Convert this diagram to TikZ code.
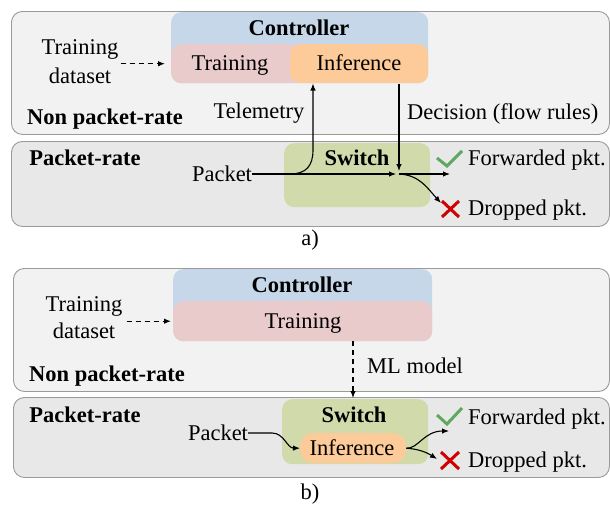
\documentclass[tikz,border=0pt]{standalone}
\usepackage{fontspec}
\setmainfont{Liberation Serif}
\newfontfamily\tnr{Liberation Serif}
\usetikzlibrary{arrows.meta}
\definecolor{outtop}{HTML}{F2F2F2}
\definecolor{outbot}{HTML}{E8E8E8}
\definecolor{outline}{HTML}{9A9A9A}
\definecolor{ctrlblue}{HTML}{C5D7E8}
\definecolor{trainpink}{HTML}{EACBCB}
\definecolor{infor}{HTML}{FDCB9A}
\definecolor{swgreen}{HTML}{D0DAAA}
\definecolor{okgreen}{HTML}{5FA85F}
\definecolor{nored}{HTML}{D00000}
\begin{document}
\begin{tikzpicture}[x=1pt,y=-1pt,
  every node/.style={font=\tnr\fontsize{22.5}{29}\selectfont, inner sep=0pt},
  txt/.style={text height=15pt, text depth=1pt},
  bold/.style={txt, font=\tnr\fontsize{22.5}{29}\selectfont\bfseries},
  region/.style={draw=outline, line width=0.9pt, rounded corners=11pt, anchor=north west},
  pane/.style={rounded corners=10pt, anchor=north west},
  arr/.style={-{Latex[length=7pt,width=5.5pt]}, line width=1.1pt},
  darr/.style={arr, dash pattern=on 5pt off 4pt},
  okmark/.style={draw=okgreen, line width=3pt},
  nomark/.style={draw=nored, line width=3pt}
]
\useasboundingbox (0,0) rectangle (610,504);

% ================= a) =================
\node[region, fill=outtop, minimum width=598pt, minimum height=123pt] (topA) at (11,11) {};
\node[region, fill=outbot, minimum width=598pt, minimum height=85pt] (botA) at (11,141) {};
\node[pane, fill=ctrlblue, minimum width=257pt, minimum height=71pt] (ctrlA) at (171,12) {};
\node[pane, fill=trainpink, minimum width=129pt, minimum height=39pt] (trainA) at (171,44) {};
\node[pane, fill=infor, minimum width=138pt, minimum height=39pt] (infA) at (290,44) {};
\node[pane, fill=swgreen, minimum width=146pt, minimum height=64pt] (swA) at (284,143) {};

\node[bold] (ctrlAl) at (299,28) {Controller};
\node[txt] (trainAl) at (230,63) {Training};
\node[txt] (infAl) at (359,63) {Inference};
\node[align=center, anchor=base] (dsA) at (80,83) {Training\\dataset};
\node[bold] (nprA) at (105,117) {Non packet-rate};
\node[txt] (telA) at (259,111) {Telemetry};
\node[txt, anchor=west] (decA) at (407,112) {Decision (flow rules)};
\node[bold] (prA) at (85,158) {Packet-rate};
\node[bold] (swAl) at (357,158) {Switch};
\node[txt] (pktA) at (222,174) {Packet};
\node[txt, anchor=west] (fwdAl) at (468,158) {Forwarded pkt.};
\node[txt, anchor=west] (dropAl) at (468,208) {Dropped pkt.};
\node[txt] (capA) at (310,238) {a)};

\coordinate (dpA) at (399,174);
\coordinate (telTopA) at (313,83.5);
\coordinate (decTopA) at (399,83.5);
\coordinate (fwdA) at (450,174);
\coordinate (dropA) at (441,203);

\draw[darr, shorten <=2pt, shorten >=6pt] (dsA.east |- trainA.west) -- (trainA.west);
\draw[arr, shorten >=3pt] (pktA.east) -- (dpA);
\draw[arr] (pktA.east) -- (290,174) .. controls (306,174) and (313,166) .. (313,150) -- (telTopA);
\draw[arr, shorten >=3pt] (decTopA) -- (dpA);
\draw[arr] (dpA) -- (fwdA);
\draw[arr] (dpA) .. controls (420,175) and (428,189) .. (dropA);

\draw[okmark] (437,158) -- (447,166) -- (462,151);
\draw[nomark] (442,201) -- (459,217) (442,217) -- (459,201);

% ================= b) =================
\node[region, fill=outtop, minimum width=596pt, minimum height=123pt] (topB) at (13,268) {};
\node[region, fill=outbot, minimum width=596pt, minimum height=80pt] (botB) at (13,397) {};
\node[pane, fill=ctrlblue, minimum width=259pt, minimum height=72pt] (ctrlB) at (173,269) {};
\node[pane, fill=trainpink, minimum width=259pt, minimum height=40pt] (trainB) at (173,301) {};
\node[pane, fill=swgreen, minimum width=146pt, minimum height=65pt] (swB) at (282,399) {};
\node[pane, fill=infor, minimum width=106pt, minimum height=30pt, rounded corners=13pt] (infB) at (300,433) {};

\node[bold] (ctrlBl) at (302,285) {Controller};
\node[txt] (trainBl) at (303,321) {Training};
\node[align=center, anchor=base] (dsB) at (84,338) {Training\\[-2pt]dataset};
\node[bold] (nprB) at (107,374) {Non packet-rate};
\node[txt, anchor=west] (mlB) at (367,366) {ML model};
\node[bold] (prB) at (85,415) {Packet-rate};
\node[bold] (swBl) at (354,415) {Switch};
\node[txt] (infBl) at (352,448) {Inference};
\node[txt] (pktB) at (218,433) {Packet};
\node[txt, anchor=west] (fwdBl) at (468,417) {Forwarded pkt.};
\node[txt, anchor=west] (dropBl) at (468,460) {Dropped pkt.};
\node[txt] (capB) at (310,492) {b)};

\coordinate (mlTopB) at (353,341);
\coordinate (mlEndB) at (353,398);
\coordinate (fwdB) at (449,431);
\coordinate (dropB) at (437,459);

\draw[darr, shorten <=4pt, shorten >=2pt] (dsB.east |- trainB.west) -- (trainB.west);
\draw[darr] (mlTopB) -- (mlEndB);
\draw[arr] (pktB.east) -- (272,433) .. controls (284,433) and (287,448) .. (infB.west);
\draw[arr] (infB.east) .. controls (418,449) and (424,431) .. (fwdB);
\draw[arr] (infB.east) .. controls (418,449) and (426,452) .. (dropB);

\draw[okmark] (437,415) -- (447,424) -- (462,408);
\draw[nomark] (441,452) -- (459,469) (441,469) -- (459,452);
\end{tikzpicture}
\end{document}
